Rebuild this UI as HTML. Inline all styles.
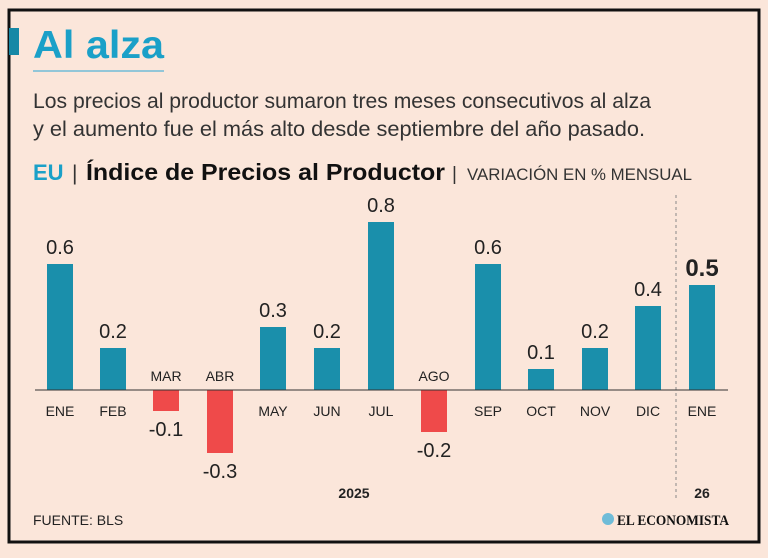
<!DOCTYPE html>
<html><head><meta charset="utf-8"><style>
body{margin:0;width:768px;height:553px;background:#fbe6da;overflow:hidden;font-family:"Liberation Sans",sans-serif}
</style></head><body>
<svg width="768" height="553" xmlns="http://www.w3.org/2000/svg" font-family="Liberation Sans, sans-serif">
<rect x="0" y="0" width="768" height="553" fill="#fbe6da"/>
<rect x="9" y="10" width="750" height="532" fill="#fbe6da" stroke="#111" stroke-width="3"/>
<rect x="9" y="28" width="10" height="27" fill="#1688a6"/>
<text x="33" y="58" font-size="39" font-weight="bold" fill="#1aa0c8" textLength="131" lengthAdjust="spacingAndGlyphs">Al alza</text>
<line x1="33" y1="71" x2="164" y2="71" stroke="#6fbcd8" stroke-width="1.5"/>
<text x="33" y="108" font-size="21" fill="#333" textLength="618" lengthAdjust="spacingAndGlyphs">Los precios al productor sumaron tres meses consecutivos al alza</text>
<text x="33" y="136" font-size="21" fill="#333" textLength="612" lengthAdjust="spacingAndGlyphs">y el aumento fue el más alto desde septiembre del año pasado.</text>
<text x="33" y="180" font-size="22" font-weight="bold" fill="#1aa0c8">EU</text>
<text x="72" y="180" font-size="21" fill="#333">|</text>
<text x="86" y="180" font-size="23" font-weight="bold" fill="#111" textLength="359" lengthAdjust="spacingAndGlyphs">Índice de Precios al Productor</text>
<text x="452" y="180" font-size="19" fill="#333">|</text>
<text x="467" y="180" font-size="17" fill="#333" textLength="225" lengthAdjust="spacingAndGlyphs">VARIACIÓN EN % MENSUAL</text>
<line x1="676" y1="195" x2="676" y2="500" stroke="#888" stroke-width="1" stroke-dasharray="3,3"/>
<g fill="#1a8fab">
<rect x="47" y="264" width="26" height="126"/>
<rect x="100" y="348" width="26" height="42"/>
<rect x="260" y="327" width="26" height="63"/>
<rect x="314" y="348" width="26" height="42"/>
<rect x="368" y="222" width="26" height="168"/>
<rect x="475" y="264" width="26" height="126"/>
<rect x="528" y="369" width="26" height="21"/>
<rect x="582" y="348" width="26" height="42"/>
<rect x="635" y="306" width="26" height="84"/>
<rect x="689" y="285" width="26" height="105"/>
</g>
<g fill="#ef4a4a">
<rect x="153" y="390" width="26" height="21"/>
<rect x="207" y="390" width="26" height="63"/>
<rect x="421" y="390" width="26" height="42"/>
</g>
<line x1="35" y1="390" x2="728" y2="390" stroke="#333" stroke-width="1"/>
<g font-size="20" fill="#222" text-anchor="middle">
<text x="60" y="254">0.6</text><text x="113" y="338">0.2</text><text x="273" y="317">0.3</text>
<text x="327" y="338">0.2</text><text x="381" y="212">0.8</text><text x="488" y="254">0.6</text>
<text x="541" y="359">0.1</text><text x="595" y="338">0.2</text><text x="648" y="296">0.4</text>
<text x="702" y="276" font-size="24" font-weight="bold">0.5</text>
<text x="166" y="436">-0.1</text><text x="220" y="478">-0.3</text><text x="434" y="457">-0.2</text>
</g>
<g font-size="14" fill="#222" text-anchor="middle">
<text x="60" y="416">ENE</text><text x="113" y="416">FEB</text><text x="166" y="381">MAR</text>
<text x="220" y="381">ABR</text><text x="273" y="416">MAY</text><text x="327" y="416">JUN</text>
<text x="381" y="416">JUL</text><text x="434" y="381">AGO</text><text x="488" y="416">SEP</text>
<text x="541" y="416">OCT</text><text x="595" y="416">NOV</text><text x="648" y="416">DIC</text>
<text x="702" y="416">ENE</text>
<text x="354" y="498" font-weight="bold">2025</text><text x="702" y="498" font-weight="bold">26</text>
</g>
<text x="33" y="525" font-size="14" fill="#222">FUENTE:  BLS</text>
<circle cx="608" cy="519" r="6" fill="#6fbcd8"/>
<text x="617" y="525" font-size="15" font-weight="bold" font-family="Liberation Serif, serif" fill="#111" textLength="112" lengthAdjust="spacingAndGlyphs">EL ECONOMISTA</text>
</svg>
</body></html>
